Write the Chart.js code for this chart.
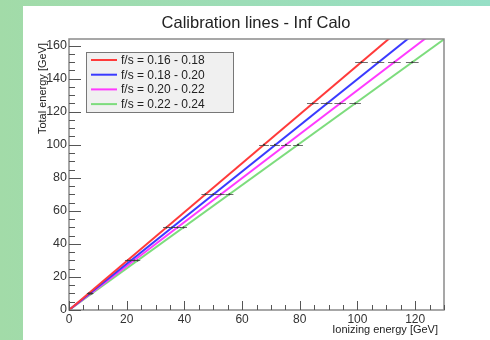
<!DOCTYPE html>
<html>
<head>
<meta charset="utf-8">
<script src="https://cdn.jsdelivr.net/npm/chart.js@4/dist/chart.umd.min.js"></script>
<style>
  html, body { margin: 0; padding: 0; }
  body { width: 490px; height: 340px; position: relative; overflow: hidden;
         background: linear-gradient(90deg, #a2dba8 0%, #96dfc6 100%); }
  #panel { position: absolute; left: 23px; top: 6px; right: 0; bottom: 0; background: #fff; }
  #wrap { position: absolute; left: 0; top: 0; width: 490px; height: 340px; }
</style>
</head>
<body>
<div id="panel"></div>
<div id="wrap"><canvas id="calib" width="490" height="340"></canvas></div>
<script>
const groupLabels = ['f/s = 0.16 - 0.18', 'f/s = 0.18 - 0.20', 'f/s = 0.20 - 0.22', 'f/s = 0.22 - 0.24'];
const groupColors = ['#ff3a3a', '#3a3aff', '#ff3aff', '#7ddc7d'];

// calibration line end points (start at origin)
const lineEndX = [130, 130, 130, 130];
const lineEndY = [192.4, 181.6, 172.9, 163.8];

// total energy of each beam point
const totalEnergy = [10, 30, 50, 70, 100, 125, 150];
// ionizing energy of the points, one list per f/s group
const ionRed = [6.8, 20.3, 33.8, 47.3, 67.6, 84.5, 101.4];
const ionBlue = [7.1, 21.4, 35.7, 50.0, 71.4, 89.3, 107.1];
const ionMagenta = [7.5, 22.6, 37.6, 52.6, 75.2, 94.0, 112.8];
const ionGreen = [7.9, 23.8, 39.7, 55.6, 79.4, 99.2, 119.0];
const ionError = [0.6, 0.9, 1.2, 1.4, 1.7, 2.0, 2.2];

const xTicks = [0, 20, 40, 60, 80, 100, 120];
const yTicks = [0, 20, 40, 60, 80, 100, 120, 140, 160];

const pointLists = [ionRed, ionBlue, ionMagenta, ionGreen];

const datasets = groupLabels.map((label, i) => ({
    type: 'line',
    label: label,
    data: [{ x: 0, y: 0 }, { x: lineEndX[i], y: lineEndY[i] }],
    borderColor: groupColors[i],
    borderWidth: 2,
    pointRadius: 0,
    fill: false,
    order: 2
}));

pointLists.forEach((list, i) => {
    datasets.push({
        type: 'scatter',
        label: 'points ' + i,
        data: list.map((x, k) => ({ x: x, y: totalEnergy[k], err: ionError[k] })),
        backgroundColor: '#333',
        borderColor: '#333',
        borderWidth: 0,
        pointRadius: 1,
        order: 1
    });
});

const FONT = '"Liberation Sans", Arial, sans-serif';

const rootStyle = {
    id: 'rootStyle',
    afterDatasetsDraw(chart) {
        const { ctx, chartArea: a, scales: { x, y } } = chart;
        ctx.save();
        // error bars
        ctx.strokeStyle = 'rgba(60,60,60,0.75)';
        ctx.lineWidth = 1;
        chart.data.datasets.forEach(ds => {
            if (ds.type !== 'scatter') return;
            ds.data.forEach(p => {
                const py = Math.round(y.getPixelForValue(p.y)) + 0.5;
                ctx.beginPath();
                ctx.moveTo(x.getPixelForValue(p.x - p.err), py);
                ctx.lineTo(x.getPixelForValue(p.x + p.err), py);
                ctx.stroke();
            });
        });
        // frame
        ctx.strokeStyle = '#8a8a8a';
        ctx.lineWidth = 1.5;
        ctx.strokeRect(a.left, a.top, a.right - a.left, a.bottom - a.top);
        // inner ticks
        ctx.strokeStyle = '#555';
        ctx.lineWidth = 1;
        for (let v = 0; v <= 130; v += 5) {
            const px = Math.round(x.getPixelForValue(v)) + 0.5;
            const len = v % 20 === 0 ? 9 : 5;
            ctx.beginPath();
            ctx.moveTo(px, a.bottom);
            ctx.lineTo(px, a.bottom - len);
            ctx.stroke();
        }
        for (let v = 0; v <= 164; v += 5) {
            const py = Math.round(y.getPixelForValue(v)) + 0.5;
            const len = v % 20 === 0 ? 12 : 6;
            ctx.beginPath();
            ctx.moveTo(a.left, py);
            ctx.lineTo(a.left + len, py);
            ctx.stroke();
        }
        // legend box
        const lx = 86, ly = 52, lw = 147, lh = 60;
        ctx.fillStyle = '#f0f0f0';
        ctx.fillRect(lx, ly, lw, lh);
        ctx.strokeStyle = '#777';
        ctx.lineWidth = 1;
        ctx.strokeRect(lx + 0.5, ly + 0.5, lw, lh);
        ctx.font = '12px ' + FONT;
        ctx.textBaseline = 'middle';
        ctx.textAlign = 'left';
        groupLabels.forEach((label, i) => {
            const ry = ly + 8 + i * 14.7;
            ctx.strokeStyle = groupColors[i];
            ctx.lineWidth = 2;
            ctx.beginPath();
            ctx.moveTo(91, ry);
            ctx.lineTo(117, ry);
            ctx.stroke();
            ctx.fillStyle = '#222';
            ctx.fillText(label, 121, ry + 0.5);
        });
        // titles
        ctx.fillStyle = '#222';
        ctx.font = '16.5px ' + FONT;
        ctx.textAlign = 'center';
        ctx.textBaseline = 'alphabetic';
        ctx.fillText('Calibration lines - Inf Calo', 256, 28);
        ctx.font = '11px ' + FONT;
        ctx.textAlign = 'right';
        ctx.fillText('Ionizing energy [GeV]', 438, 333);
        ctx.translate(46, 43);
        ctx.rotate(-Math.PI / 2);
        ctx.fillText('Total energy [GeV]', 0, 0);
        ctx.restore();
    }
};

new Chart(document.getElementById('calib').getContext('2d'), {
    data: { datasets: datasets },
    options: {
        responsive: false,
        animation: false,
        layout: { padding: { top: 39, right: 46, left: 0, bottom: 0 } },
        plugins: { legend: { display: false }, tooltip: { enabled: false } },
        scales: {
            x: {
                type: 'linear',
                min: 0,
                max: 130,
                afterFit: s => { s.height = 30; },
                afterBuildTicks: s => { s.ticks = xTicks.map(v => ({ value: v })); },
                grid: { display: false, drawTicks: false },
                border: { display: false },
                ticks: { padding: 2, color: '#333', font: { family: FONT, size: 12 }, maxRotation: 0 }
            },
            y: {
                type: 'linear',
                min: 0,
                max: 164,
                afterFit: s => { s.width = 69; },
                afterBuildTicks: s => { s.ticks = yTicks.map(v => ({ value: v })); },
                grid: { display: false, drawTicks: false },
                border: { display: false },
                ticks: { padding: 2, color: '#333', font: { family: FONT, size: 12.5 } }
            }
        }
    },
    plugins: [rootStyle]
});
</script>
</body>
</html>
